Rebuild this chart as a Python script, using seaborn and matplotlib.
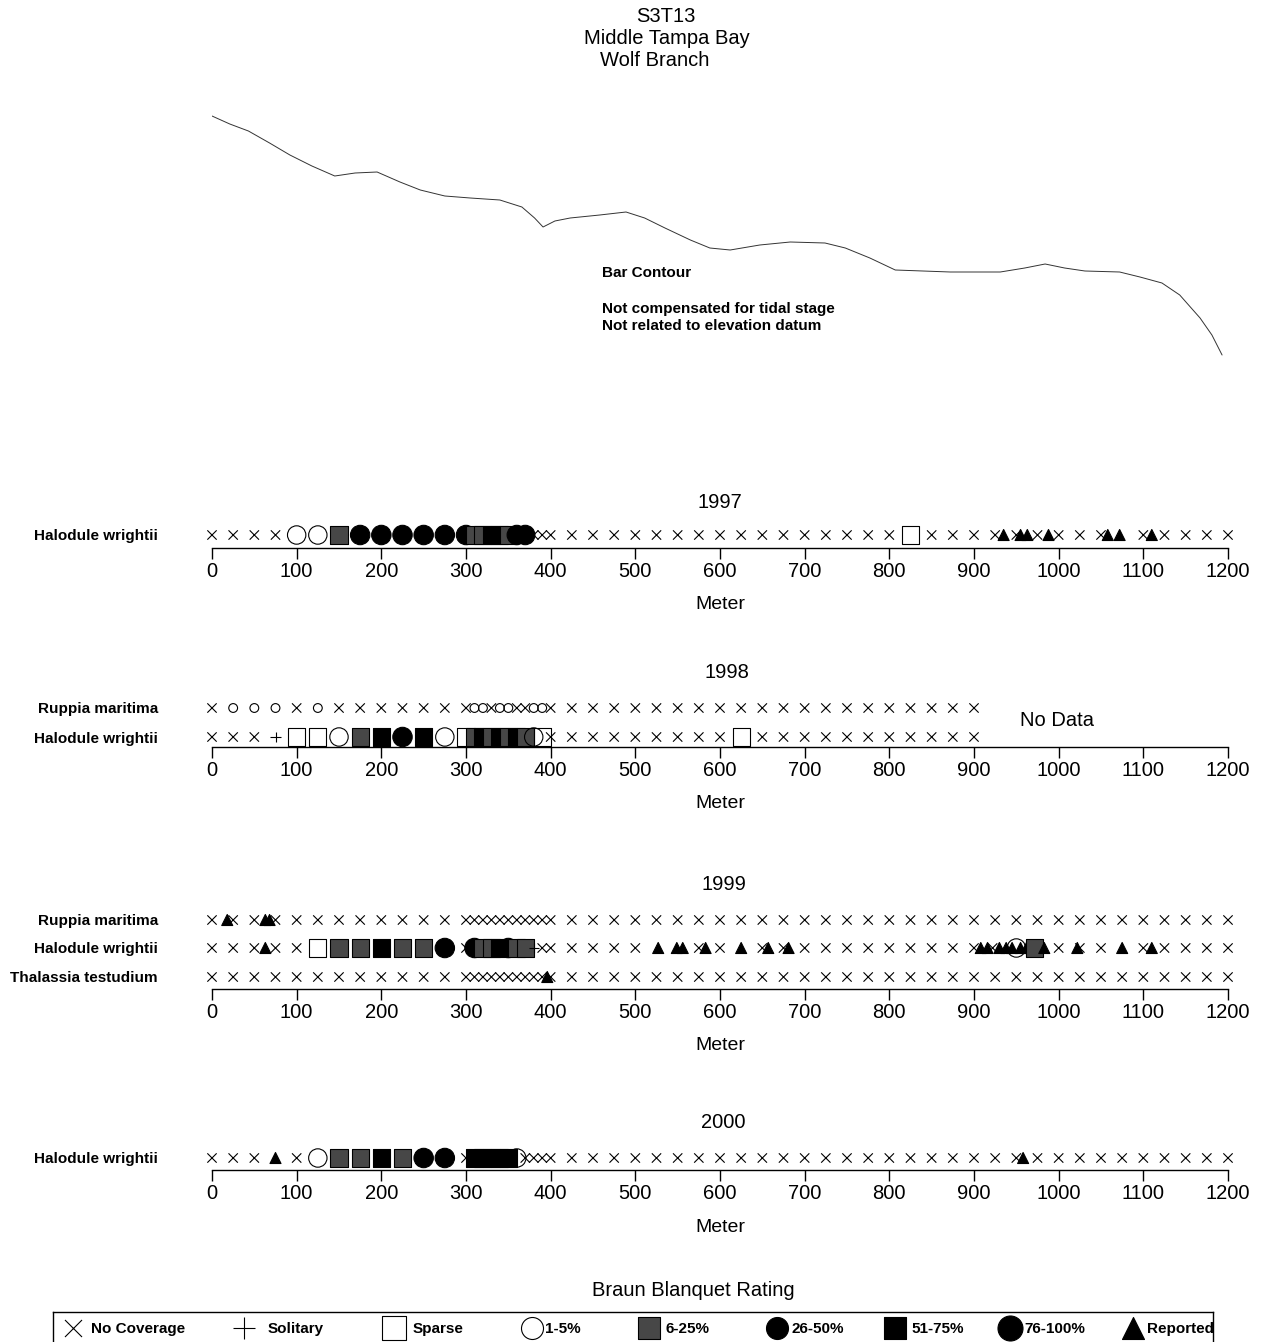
import matplotlib
matplotlib.use("Agg")
import matplotlib.pyplot as plt
from matplotlib.path import Path
import pandas as pd
import seaborn as sns

sns.set_theme(style="white", rc={"axes.edgecolor": "black", "text.color": "black",
                                 "xtick.color": "black", "ytick.color": "black",
                                 "axes.labelcolor": "black"})
plt.rcParams["font.family"] = ["Liberation Sans", "DejaVu Sans"]

# ---------------------------------------------------------------- data
# Bar contour profile: distance along transect (m) and relative elevation
CONTOUR_M = [0, 21, 43, 68, 92, 118, 145, 169, 195, 222, 246, 275, 305, 340,
             366, 381, 391, 405, 423, 458, 489, 511, 535, 565, 588, 612, 647,
             683, 724, 748, 777, 807, 872, 931, 960, 984, 1007, 1031, 1072,
             1096, 1122, 1143, 1167, 1181, 1193]
CONTOUR_Z = [0.0, -0.8, -1.5, -2.7, -3.9, -5.0, -6.0, -5.7, -5.6, -6.6, -7.4,
             -8.0, -8.2, -8.4, -9.1, -10.2, -11.1, -10.5, -10.2, -9.9, -9.6,
             -10.2, -11.2, -12.4, -13.2, -13.4, -12.9, -12.6, -12.7, -13.2,
             -14.2, -15.4, -15.6, -15.6, -15.2, -14.8, -15.2, -15.5, -15.6,
             -16.1, -16.7, -17.9, -20.2, -21.9, -23.9]

TICKS_M = [0, 100, 200, 300, 400, 500, 600, 700, 800, 900, 1000, 1100, 1200]

# Braun Blanquet rating codes and their names
RATINGS = ["X", "+", "S", "1", "6", "26", "51", "76", "R"]
RATING_NAMES = ["No Coverage", "Solitary", "Sparse", "1-5%", "6-25%",
                "26-50%", "51-75%", "76-100%", "Reported"]

# 1997 - Halodule wrightii
H97_M = [0, 25, 50, 75, 100, 125, 150, 175, 200, 225, 250, 275,
         300, 310, 320, 330, 340, 350, 360, 370, 380, 390, 400,
         425, 450, 475, 500, 525, 550, 575, 600, 625, 650, 675, 700, 725,
         750, 775, 800, 825, 850, 875, 900,
         925, 935, 950, 955, 963, 975, 988, 1000, 1025, 1050, 1058, 1072,
         1100, 1110, 1125, 1150, 1175, 1200]
H97_R = ["X", "X", "X", "X", "1", "1", "6", "26", "26", "26", "26", "26",
         "26", "6", "6", "51", "51", "6", "26", "26", "X", "X", "X",
         "X", "X", "X", "X", "X", "X", "X", "X", "X", "X", "X", "X", "X",
         "X", "X", "X", "S", "X", "X", "X",
         "X", "R", "X", "R", "R", "X", "R", "X", "X", "X", "R", "R",
         "X", "R", "X", "X", "X", "X"]

# 1998 - Ruppia maritima
R98_M = [0, 25, 50, 75, 100, 125, 150, 175, 200, 225, 250, 275,
         300, 310, 320, 330, 340, 350, 360, 370, 380, 390, 400,
         425, 450, 475, 500, 525, 550, 575, 600, 625, 650, 675, 700, 725,
         750, 775, 800, 825, 850, 875, 900]
R98_R = ["X", "1", "1", "1", "X", "1", "X", "X", "X", "X", "X", "X",
         "X", "1", "1", "X", "1", "1", "X", "X", "1", "1", "X",
         "X", "X", "X", "X", "X", "X", "X", "X", "X", "X", "X", "X", "X",
         "X", "X", "X", "X", "X", "X", "X"]

# 1998 - Halodule wrightii
H98_M = [0, 25, 50, 75, 100, 125, 150, 175, 200, 225, 250, 275,
         300, 310, 320, 330, 340, 350, 360, 370, 380, 390, 400,
         425, 450, 475, 500, 525, 550, 575, 600, 625, 650, 675, 700, 725,
         750, 775, 800, 825, 850, 875, 900]
H98_R = ["X", "X", "X", "+", "S", "S", "1", "6", "51", "26", "51", "1",
         "S", "6", "51", "6", "51", "6", "51", "6", "1", "S", "X",
         "X", "X", "X", "X", "X", "X", "X", "X", "S", "X", "X", "X", "X",
         "X", "X", "X", "X", "X", "X", "X"]

# 1999 - Ruppia maritima
R99_M = [0, 18, 25, 50, 63, 68, 75, 100, 125, 150, 175, 200, 225, 250, 275,
         300, 310, 320, 330, 340, 350, 360, 370, 380, 390, 400,
         425, 450, 475, 500, 525, 550, 575, 600, 625, 650, 675, 700, 725,
         750, 775, 800, 825, 850, 875, 900, 925, 950, 975, 1000, 1025,
         1050, 1075, 1100, 1125, 1150, 1175, 1200]
R99_R = ["X", "R", "X", "X", "R", "R", "X", "X", "X", "X", "X", "X", "X",
         "X", "X",
         "X", "X", "X", "X", "X", "X", "X", "X", "X", "X", "X",
         "X", "X", "X", "X", "X", "X", "X", "X", "X", "X", "X", "X", "X",
         "X", "X", "X", "X", "X", "X", "X", "X", "X", "X", "X", "X",
         "X", "X", "X", "X", "X", "X", "X"]

# 1999 - Halodule wrightii
H99_M = [0, 25, 50, 63, 75, 100, 125, 150, 175, 200, 225, 250, 275,
         300, 310, 320, 330, 340, 350, 360, 370, 380, 390, 400,
         425, 450, 475, 500, 527, 549, 556, 575, 583, 600, 625, 650, 657,
         675, 681, 700, 725, 750, 775, 800, 825, 850, 875, 900,
         908, 916, 922, 930, 938, 945, 950, 955, 962, 972, 983,
         1000, 1022, 1025, 1050, 1075, 1100, 1110, 1125, 1150, 1175, 1200]
H99_R = ["X", "X", "X", "R", "X", "X", "S", "6", "6", "51", "6", "6", "26",
         "X", "26", "6", "6", "51", "26", "6", "6", "+", "X", "X",
         "X", "X", "X", "X", "R", "R", "R", "X", "R", "X", "R", "X", "R",
         "X", "R", "X", "X", "X", "X", "X", "X", "X", "X", "X",
         "R", "R", "X", "R", "R", "R", "1", "R", "R", "6", "R",
         "X", "R", "X", "X", "R", "X", "R", "X", "X", "X", "X"]

# 1999 - Thalassia testudium
T99_M = [0, 25, 50, 75, 100, 125, 150, 175, 200, 225, 250, 275,
         300, 310, 320, 330, 340, 350, 360, 370, 380, 390, 396, 400,
         425, 450, 475, 500, 525, 550, 575, 600, 625, 650, 675, 700, 725,
         750, 775, 800, 825, 850, 875, 900, 925, 950, 975, 1000, 1025,
         1050, 1075, 1100, 1125, 1150, 1175, 1200]
T99_R = ["X", "X", "X", "X", "X", "X", "X", "X", "X", "X", "X", "X",
         "X", "X", "X", "X", "X", "X", "X", "X", "X", "X", "R", "X",
         "X", "X", "X", "X", "X", "X", "X", "X", "X", "X", "X", "X", "X",
         "X", "X", "X", "X", "X", "X", "X", "X", "X", "X", "X", "X",
         "X", "X", "X", "X", "X", "X", "X"]

# 2000 - Halodule wrightii
H00_M = [0, 25, 50, 75, 100, 125, 150, 175, 200, 225, 250, 275,
         300, 310, 320, 330, 340, 350, 360, 370, 380, 390, 400,
         425, 450, 475, 500, 525, 550, 575, 600, 625, 650, 675, 700, 725,
         750, 775, 800, 825, 850, 875, 900, 925, 950, 958, 975, 1000, 1025,
         1050, 1075, 1100, 1125, 1150, 1175, 1200]
H00_R = ["X", "X", "X", "R", "X", "1", "6", "6", "51", "6", "26", "26",
         "X", "51", "51", "51", "51", "51", "1", "X", "X", "X", "X",
         "X", "X", "X", "X", "X", "X", "X", "X", "X", "X", "X", "X", "X",
         "X", "X", "X", "X", "X", "X", "X", "X", "X", "R", "X", "X", "X",
         "X", "X", "X", "X", "X", "X", "X"]

# ---------------------------------------------------------------- styling
W, H = 1266, 1342
X_PATH = Path([(-1, -1), (1, 1), (-1, 1), (1, -1)],
              [Path.MOVETO, Path.LINETO, Path.MOVETO, Path.LINETO])
PLUS_PATH = Path([(-1, 0), (1, 0), (0, -1), (0, 1)],
                 [Path.MOVETO, Path.LINETO, Path.MOVETO, Path.LINETO])

MARKERS = {"X": X_PATH, "+": PLUS_PATH, "S": "s", "1": "o", "6": "s",
           "26": "o", "51": "s", "76": "o", "R": "^"}
FACE = {"X": (0, 0, 0, 0), "+": (0, 0, 0, 0), "S": (1, 1, 1, 0),
        "1": (1, 1, 1, 0), "6": (0.28, 0.28, 0.28, 1.0),
        "26": (0, 0, 0, 1), "51": (0, 0, 0, 1), "76": (0, 0, 0, 1),
        "R": (0, 0, 0, 1)}
SIZES = {"X": 45, "+": 52, "S": 150, "1": 175, "6": 150, "26": 195,
         "51": 150, "76": 225, "R": 63, "small": 40}

fig = plt.figure(figsize=(W / 100, H / 100), dpi=100)


def px_axes(left, top, right, bottom):
    return fig.add_axes([left / W, 1 - bottom / H, (right - left) / W, (bottom - top) / H])


# ---------------------------------------------------------------- titles
for txt, x, y in [("S3T13", 666, 17), ("Middle Tampa Bay", 667, 39), ("Wolf Branch", 655, 60)]:
    fig.text(x / W, 1 - y / H, txt, ha="center", va="center", fontsize=14.5)

# ---------------------------------------------------------------- bar contour
axc = px_axes(212, 100, 1228, 370)
sns.lineplot(x=CONTOUR_M, y=CONTOUR_Z, color="#333333", linewidth=0.7, ax=axc)
axc.set_xlim(0, 1200)
axc.set_ylim((116 - 370) / 10, (116 - 100) / 10)
axc.axis("off")
fig.text(602 / W, 1 - 273 / H, "Bar Contour", ha="left", va="center",
         fontsize=11, fontweight="bold")
fig.text(602 / W, 1 - 309 / H, "Not compensated for tidal stage", ha="left",
         va="center", fontsize=11, fontweight="bold")
fig.text(602 / W, 1 - 326 / H, "Not related to elevation datum", ha="left",
         va="center", fontsize=11, fontweight="bold")


# ---------------------------------------------------------------- transects
def transect(line_px, height, rows, small_circle_rows=()):
    ax = px_axes(212, line_px - height, 1228, line_px)
    frames = []
    for name, offset, m, r in rows:
        df = pd.DataFrame({"meter": m, "row": offset, "rating": r})
        df["size"] = df["rating"]
        if name in small_circle_rows:
            df.loc[df["rating"] == "1", "size"] = "small"
        frames.append(df)
    data = pd.concat(frames, ignore_index=True)
    sns.scatterplot(data=data, x="meter", y="row", hue="rating", style="rating",
                    size="size", palette=FACE, markers=MARKERS, sizes=SIZES,
                    edgecolor="black", linewidth=0.8, legend=False,
                    clip_on=False, ax=ax)
    ax.set_xlim(0, 1200)
    ax.set_ylim(0, height)
    ax.set_facecolor("none")
    for side in ("left", "top", "right"):
        ax.spines[side].set_visible(False)
    ax.spines["bottom"].set_linewidth(1.0)
    ax.spines["bottom"].set_color("black")
    ax.set_xticks(TICKS_M)
    ax.set_xticklabels([str(t) for t in TICKS_M], fontsize=14.5)
    ax.tick_params(axis="x", bottom=True, direction="out", length=8, width=1,
                   pad=2, colors="black")
    ax.set_yticks([row[1] for row in rows])
    ax.set_yticklabels([row[0] for row in rows], fontsize=11, fontweight="bold")
    ax.tick_params(axis="y", left=False, length=0, pad=39)
    ax.set_ylabel("")
    ax.set_xlabel("Meter", fontsize=14)
    ax.xaxis.set_label_coords(0.5, -57 / height)
    ax.xaxis.label.set_va("center")
    return ax


ax97 = transect(548, 30, [("Halodule wrightii", 13, H97_M, H97_R)])
fig.text(720 / W, 1 - 502 / H, "1997", ha="center", va="center", fontsize=14.5)

ax98 = transect(747, 55, [("Ruppia maritima", 39, R98_M, R98_R),
                          ("Halodule wrightii", 10, H98_M, H98_R)],
                small_circle_rows=("Ruppia maritima",))
fig.text(727 / W, 1 - 672 / H, "1998", ha="center", va="center", fontsize=14.5)
fig.text(1057 / W, 1 - 721 / H, "No Data", ha="center", va="center", fontsize=14.5)

ax99 = transect(989, 85, [("Ruppia maritima", 69, R99_M, R99_R),
                          ("Halodule wrightii", 41, H99_M, H99_R),
                          ("Thalassia testudium", 12, T99_M, T99_R)])
fig.text(724 / W, 1 - 885 / H, "1999", ha="center", va="center", fontsize=14.5)

ax00 = transect(1170, 30, [("Halodule wrightii", 12, H00_M, H00_R)])
fig.text(723 / W, 1 - 1123 / H, "2000", ha="center", va="center", fontsize=14.5)

# ---------------------------------------------------------------- legend
fig.text(693 / W, 1 - 1290 / H, "Braun Blanquet Rating", ha="center",
         va="center", fontsize=14.5)
axl = px_axes(53, 1312, 1213, 1342)
axl.set_xlim(53, 1213)
axl.set_ylim(1342, 1312)
axl.set_xticks([])
axl.set_yticks([])
axl.set_facecolor("none")
for side in ("left", "top", "right"):
    axl.spines[side].set_color("black")
    axl.spines[side].set_linewidth(1.0)
axl.spines["bottom"].set_visible(False)

leg_marker_x = [73, 244, 394, 532, 649, 777, 895, 1010, 1133]
leg_label_x = [91, 268, 413, 545, 666, 791, 911, 1024, 1147]
leg_sizes = [150, 251, 300, 251, 229, 251, 229, 324, 251]
for code, name, mx, lx, s in zip(RATINGS, RATING_NAMES, leg_marker_x, leg_label_x, leg_sizes):
    axl.scatter([mx], [1328], marker=MARKERS[code], s=s, facecolors=[FACE[code]],
                edgecolors="black", linewidths=0.8, clip_on=False)
    axl.text(lx, 1329, name, ha="left", va="center", fontsize=11, fontweight="bold")

fig.savefig("out.png", dpi=100)
